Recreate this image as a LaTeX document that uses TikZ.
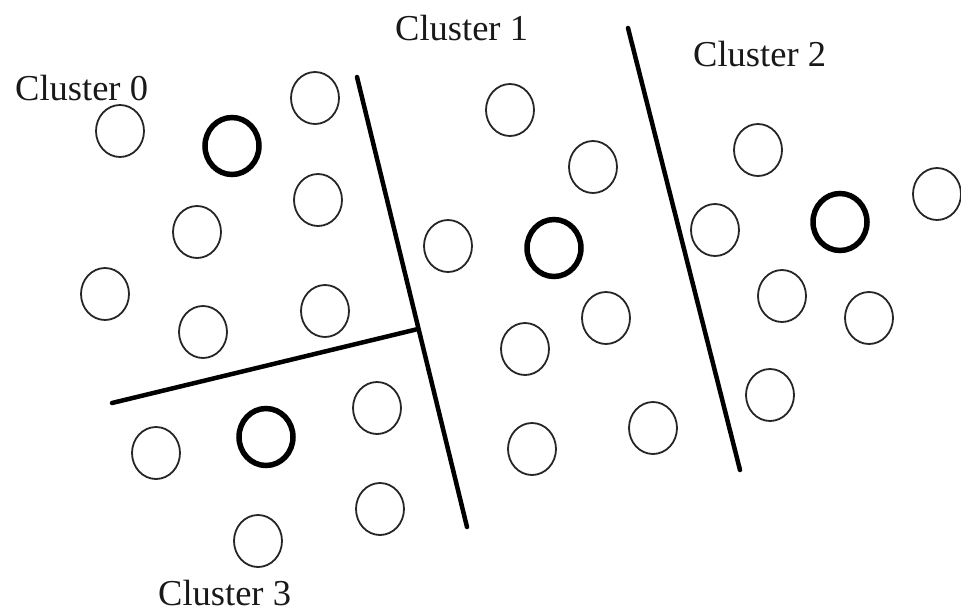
\documentclass[tikz,border=0pt]{standalone}
\usepackage{fontspec}
\setmainfont{Liberation Serif}
\usetikzlibrary{shapes.geometric}
\begin{document}
\begin{tikzpicture}[x=1pt,y=-1pt,
  pt/.style={ellipse,draw=black!85,line width=1.8pt,inner sep=0pt,minimum width=48pt,minimum height=52pt},
  ctr/.style={ellipse,draw=black,line width=5.5pt,inner sep=0pt,minimum width=54pt,minimum height=57pt},
  sep/.style={line width=4.5pt,line cap=round},
  lbl/.style={anchor=base west,inner sep=0pt,font=\fontsize{36.5}{40}\selectfont,text=black!90}]
\useasboundingbox (0,0) rectangle (961,611);
% labels
\node[lbl] (l0) at (15,100) {Cluster 0};
\node[lbl] (l1) at (395,40) {Cluster 1};
\node[lbl] (l2) at (693,66) {Cluster 2};
\node[lbl] (l3) at (158,605) {Cluster 3};
% cluster 0
\node[pt] (a1) at (120,131) {};
\node[ctr] (a0) at (232,146) {};
\node[pt] (a2) at (315,98) {};
\node[pt] (a3) at (318,200) {};
\node[pt] (a4) at (197,232) {};
\node[pt] (a5) at (105,294) {};
\node[pt] (a6) at (203,332) {};
\node[pt] (a7) at (325,311) {};
% cluster 3
\node[pt] (d1) at (156,453) {};
\node[ctr] (d0) at (266,437) {};
\node[pt] (d2) at (377,408) {};
\node[pt] (d3) at (380,509) {};
\node[pt] (d4) at (258,541) {};
% cluster 1
\node[pt] (b1) at (510,110) {};
\node[pt] (b2) at (593,167) {};
\node[pt] (b3) at (448,246) {};
\node[ctr] (b0) at (554,248) {};
\node[pt] (b4) at (606,318) {};
\node[pt] (b5) at (525,349) {};
\node[pt] (b6) at (532,449) {};
\node[pt] (b7) at (653,428) {};
% cluster 2
\node[pt] (c1) at (758,150) {};
\node[pt] (c2) at (937,194) {};
\node[ctr] (c0) at (840,222) {};
\node[pt] (c3) at (715,230) {};
\node[pt] (c4) at (782,296) {};
\node[pt] (c5) at (869,318) {};
\node[pt] (c6) at (770,395) {};
% separators
\coordinate (s1a) at (357,77);
\coordinate (s1b) at (467,527);
\coordinate (s1m) at (418,329);
\coordinate (s3a) at (112,403);
\coordinate (s2a) at (628,28);
\coordinate (s2b) at (740,470);
\draw[sep] (s1a) -- (s1b);
\draw[sep] (s3a) -- (s1m);
\draw[sep] (s2a) -- (s2b);
\end{tikzpicture}
\end{document}
